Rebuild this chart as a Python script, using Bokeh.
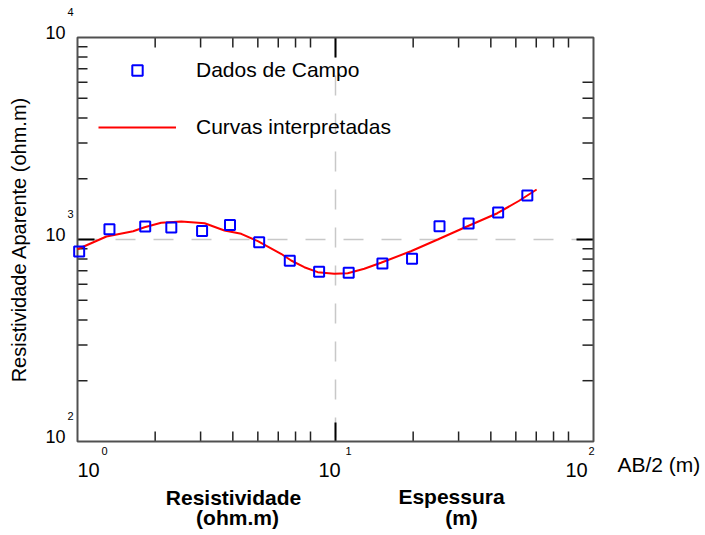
import math
from bokeh.plotting import figure
from bokeh.models import Label, Legend, LegendItem
from bokeh.embed import file_html
from bokeh.resources import INLINE

# ---- data ----
ab2_field = [1.015, 1.33, 1.83, 2.31, 3.04, 3.90, 5.06, 6.65, 8.64, 11.25,
             15.2, 19.8, 25.3, 32.8, 42.7, 55.4]
rho_field = [872, 1123, 1159, 1146, 1102, 1180, 968, 785, 693, 685,
             761, 803, 1162, 1200, 1361, 1651]

ab2_model = [1.0, 1.295, 1.643, 1.82, 2.11, 2.525, 3.11, 3.71, 4.31, 5.0,
             6.15, 6.73, 7.57, 8.53, 9.89, 11.15, 12.93, 15.0, 19.6, 24.9,
             31.5, 42.4, 51.3, 60.2]
rho_model = [895, 1035, 1099, 1150, 1210, 1228, 1204, 1108, 1067, 981,
             850, 787, 729, 689, 676, 681, 716, 767, 875, 1000,
             1143, 1349, 1551, 1768]

x_exponents = [0, 1, 2]
y_exponents = [2, 3, 4]
x_major = [10 ** e for e in x_exponents]
y_major = [10 ** e for e in y_exponents]
x_minor = [m * 10 ** e for e in (0, 1) for m in range(2, 9)]
y_minor_left = [m * 10 ** e for e in (2, 3) for m in range(2, 10)]
y_minor_right = [m * 100 for m in range(2, 10)] + [m * 1000 for m in range(2, 7)]
x_ref = 10     # vertical dashed reference
y_ref = 1000   # horizontal dashed reference

legend_labels = ["Dados de Campo", "Curvas interpretadas"]
x_title = "AB/2 (m)"
y_title = "Resistividade Aparente (ohm.m)"

FONT = "Liberation Sans"

# ---- layout geometry (pixels) ----
W, H = 705, 535
BOX_L, BOX_R, BOX_T, BOX_B = 77, 593, 37, 441
XDEC = (BOX_R - BOX_L) / (math.log10(x_major[-1]) - math.log10(x_major[0]))
YDEC = (BOX_B - BOX_T) / (math.log10(y_major[-1]) - math.log10(y_major[0]))

lx0 = math.log10(x_major[0]) - BOX_L / XDEC
lx1 = math.log10(x_major[-1]) + (W - BOX_R) / XDEC
ly0 = math.log10(y_major[0]) - (H - BOX_B) / YDEC
ly1 = math.log10(y_major[-1]) + BOX_T / YDEC

p = figure(width=W, height=H, x_axis_type="log", y_axis_type="log",
           x_range=(10 ** lx0, 10 ** lx1), y_range=(10 ** ly0, 10 ** ly1),
           output_backend="svg", toolbar_location=None,
           x_axis_location=None, y_axis_location=None,
           min_border=0)
p.grid.visible = False
p.outline_line_color = None
p.background_fill_color = "white"
p.border_fill_color = "white"


def xf(px):
    return 10 ** (px / XDEC)


def yf(px):
    return 10 ** (px / YDEC)


x_lo, x_hi = x_major[0], x_major[-1]
y_lo, y_hi = y_major[0], y_major[-1]

# dashed reference lines (under the data)
p.segment(x0=[x_lo], y0=[y_ref], x1=[x_hi], y1=[y_ref], line_color="#c8c8c8",
          line_width=1.5, line_dash="20 18")
p.segment(x0=[x_ref], y0=[y_hi], x1=[x_ref], y1=[y_lo], line_color="#c8c8c8",
          line_width=1.5, line_dash="20 18")

# ticks (inward)
MINOR, TICKC = 10, "#222222"
p.segment(x0=x_minor, y0=[y_lo] * len(x_minor), x1=x_minor,
          y1=[y_lo * yf(MINOR)] * len(x_minor), line_color=TICKC, line_width=1.5)
p.segment(x0=x_minor, y0=[y_hi] * len(x_minor), x1=x_minor,
          y1=[y_hi / yf(MINOR)] * len(x_minor), line_color=TICKC, line_width=1.5)
p.segment(x0=[x_lo] * len(y_minor_left), y0=y_minor_left,
          x1=[x_lo * xf(MINOR)] * len(y_minor_left), y1=y_minor_left,
          line_color=TICKC, line_width=1.5)
p.segment(x0=[x_hi] * len(y_minor_right), y0=y_minor_right,
          x1=[x_hi / xf(MINOR + 1)] * len(y_minor_right), y1=y_minor_right,
          line_color=TICKC, line_width=1.5)
# longer major ticks at the middle decade
p.segment(x0=[x_major[1]] * 2, y0=[y_lo, y_hi], x1=[x_major[1]] * 2,
          y1=[y_lo * yf(19), y_hi / yf(20)], line_color="black", line_width=2)
p.segment(x0=[x_lo, x_hi], y0=[y_major[1]] * 2,
          x1=[x_lo * xf(17), x_hi / xf(17)], y1=[y_major[1]] * 2,
          line_color="black", line_width=2)

# plot box
p.quad(left=[x_lo], right=[x_hi], bottom=[y_lo], top=[y_hi], fill_color=None,
       line_color="#505050", line_width=2)

r_line = p.line(ab2_model, rho_model, line_color="#ff0000", line_width=2)
r_pts = p.scatter(ab2_field, rho_field, marker="square", size=10,
                  fill_color=None, line_color="#0000ff", line_width=2)

PAD, ROW, SPC = 10, 26, 31
leg_top = 70 - ROW / 2 - PAD - 10
leg_h = 2 * PAD + 2 * ROW + SPC
legend = Legend(items=[LegendItem(label=legend_labels[0], renderers=[r_pts]),
                       LegendItem(label=legend_labels[1], renderers=[r_line])],
                location=(99 - PAD + 9, H - leg_top - leg_h), margin=0,
                padding=PAD, glyph_width=78, glyph_height=ROW, label_height=ROW,
                label_standoff=20, spacing=SPC,
                label_text_font=FONT, label_text_font_size="21px",
                label_text_color="black",
                background_fill_alpha=0, border_line_color=None)
p.add_layout(legend)

BASE_FIX = 0.4  # em: compensates the renderer's alphabetic-baseline placement


def add_label(x, y, text, dx, dy, size, align="left", baseline="alphabetic",
              bold=False, angle=0.0):
    if baseline == "alphabetic":
        dy = dy + BASE_FIX * size
    p.add_layout(Label(x=x, y=y, x_offset=dx, y_offset=dy, text=text,
                       text_font=FONT, text_font_size=f"{size}px",
                       text_align=align, text_baseline=baseline,
                       text_font_style="bold" if bold else "normal",
                       angle=angle, text_color="black"))


# x tick labels: "10" with exponent above-right
x_lab_dx = {0: (0, 24), 1: (-17, 10), 2: (-28, -5)}
for e in x_exponents:
    d10, dexp = x_lab_dx[e]
    add_label(10 ** e, y_lo, "10", d10, -36, 20)
    add_label(10 ** e, y_lo, str(e), dexp, -14, 11)

# y tick labels
for e in y_exponents:
    add_label(x_lo, 10 ** e, "10", -12, -2, 18, align="right")
    add_label(x_lo, 10 ** e, str(e), -10, 21, 11)

add_label(x_hi, y_lo, x_title, 24, -31, 21)
add_label(x_lo, y_major[1], y_title, -59, 0, 20, align="center",
          baseline="middle", angle=math.pi / 2)

add_label(x_lo, y_lo, "Resistividade", 156, -64, 21, align="center", bold=True)
add_label(x_lo, y_lo, "(ohm.m)", 160, -84, 21, align="center", bold=True)
add_label(x_major[1], y_lo, "Espessura", 116, -63, 21, align="center", bold=True)
add_label(x_major[1], y_lo, "(m)", 126, -84, 21, align="center", bold=True)

open("out.html", "w").write(file_html(p, INLINE))
